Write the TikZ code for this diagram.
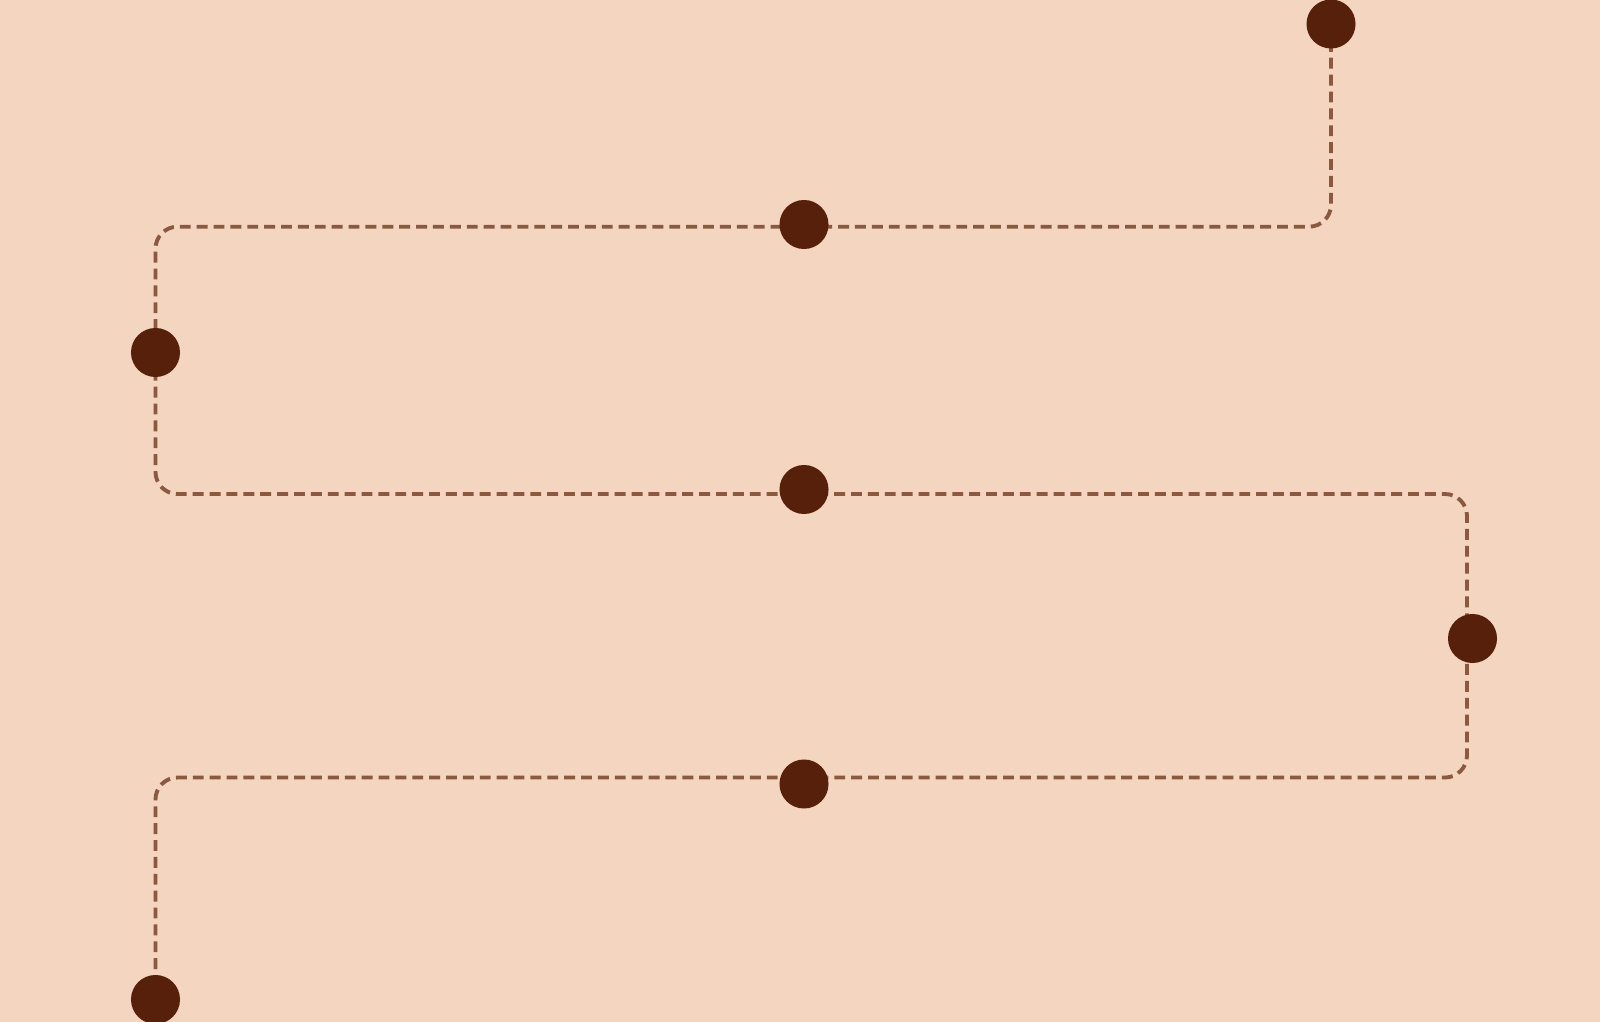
\documentclass[tikz,border=0pt]{standalone}
\usepackage{xcolor}
\usepackage{tikz}
\usetikzlibrary{positioning,calc,backgrounds}
\definecolor{sand}{HTML}{F4D5C0}
\definecolor{cocoa}{HTML}{57200A}
\definecolor{trailc}{HTML}{8A5940}

\begin{document}
\begin{tikzpicture}[x=0.01cm,y=-0.01cm,
 dot/.style={circle,fill=cocoa,draw=none,inner sep=0pt,minimum size=0.49cm},
 trail/.style={trailc,line width=1.1pt,dash pattern=on 3.1pt off 1.7pt,rounded corners=0.22cm}]
 \useasboundingbox (0,0) rectangle (1600,1022);
 % stops along the trail
 \node[dot] (p1) at (1331,24) {};
 \node[dot] (p2) at (804,224.5) {};
 \node[dot] (p3) at (155.5,352.5) {};
 \node[dot] (p4) at (804,489.5) {};
 \node[dot] (p5) at (1472.5,638.5) {};
 \node[dot] (p6) at (804,784) {};
 \node[dot] (p7) at (155.5,999.5) {};
 % bends
 \coordinate (c1) at (1331,226.7);
 \coordinate (c2) at (155.5,226.7);
 \coordinate (c3) at (155.5,494);
 \coordinate (c4) at (1467,494);
 \coordinate (c5) at (1467,777.5);
 \coordinate (c6) at (155.5,777.5);
 \begin{scope}[on background layer]
  \fill[sand] (0,0) rectangle (1600,1022);
  \draw[trail] (p1.center) -- (c1) -- (c2) -- (c3) -- (c4) -- (c5) -- (c6) -- (p7.center);
 \end{scope}
\end{tikzpicture}
\end{document}
